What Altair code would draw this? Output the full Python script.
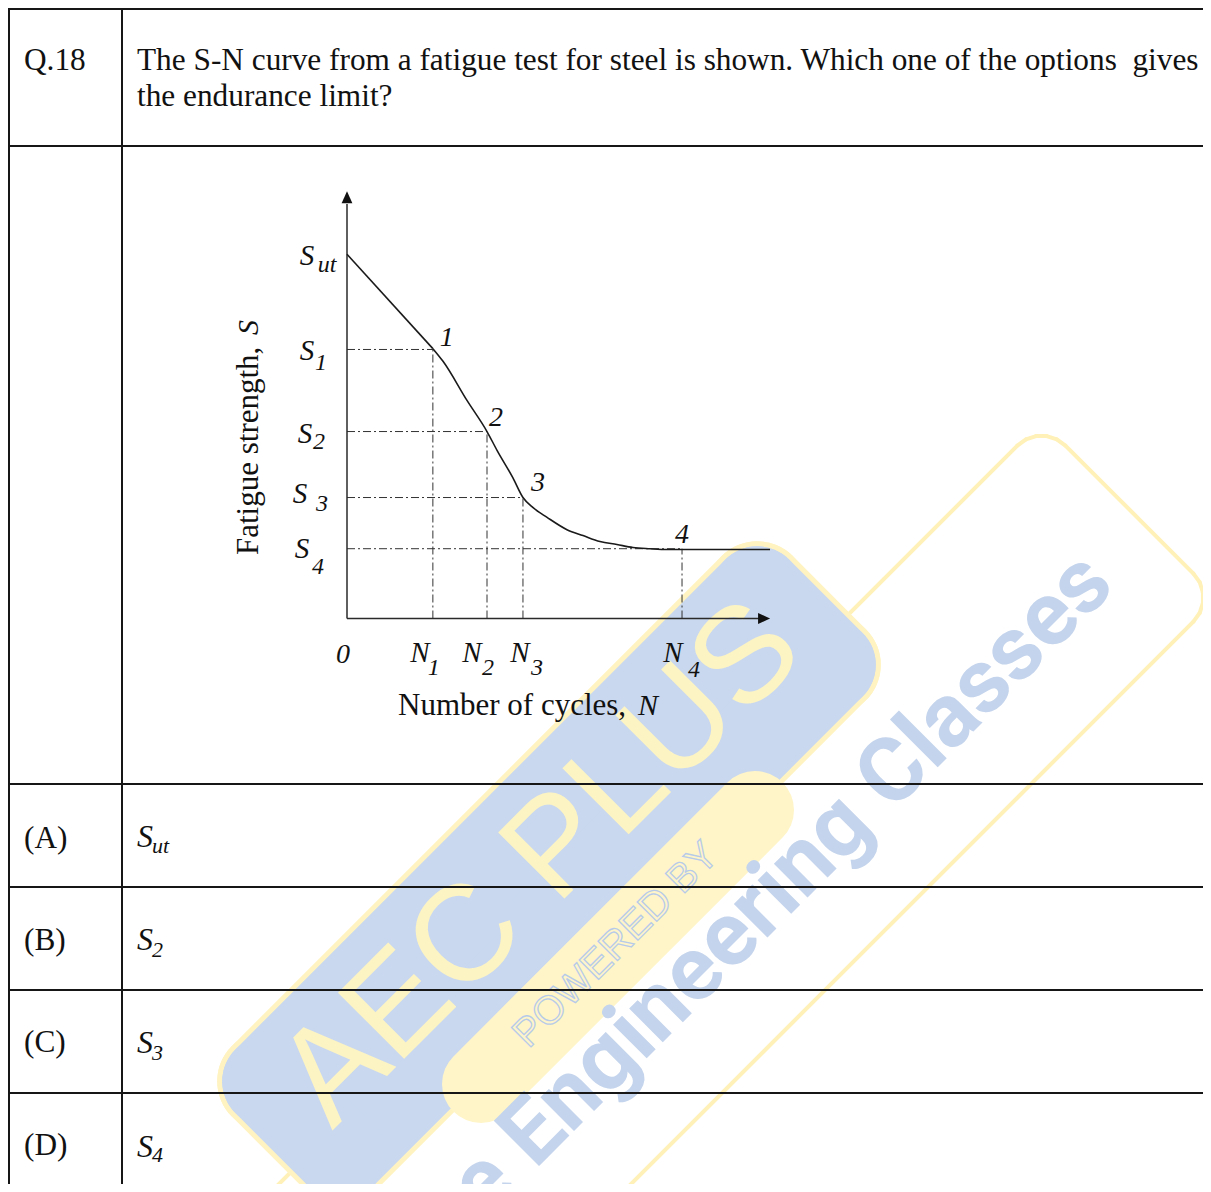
import altair as alt
import pandas as pd
import numpy as np

# ---------------- data ----------------
# S-N curve, in relative units: N from 0 to 100 along the axis, S from 0 to 100
curve_n = [0.0, 20.3, 22.7, 28.4, 33.1, 35.5, 39.2, 41.6, 44.0, 47.3, 52.0, 55.8, 59.8, 63.8, 67.6, 71.6, 75.7, 79.2, 100.0]
curve_s = [86.1, 63.8, 60.8, 51.5, 44.2, 39.7, 33.3, 28.6, 26.2, 23.9, 21.0, 19.6, 18.2, 17.5, 16.8, 16.5, 16.3, 16.3, 16.3]

point_names = ["1", "2", "3", "4"]
point_n = [20.3, 33.1, 41.6, 79.2]
point_s = [63.6, 44.2, 28.6, 16.5]
s_ut = 86.1

n_subs = ["1", "2", "3", "4"]
s_subs = ["ut", "1", "2", "3", "4"]

question_no = "Q.18"
question_lines = [
    "The S-N curve from a fatigue test for steel is shown. Which one of the options\u00a0 gives",
    "the endurance limit?",
]
option_keys = ["(A)", "(B)", "(C)", "(D)"]
option_subs = ["ut", "2", "3", "4"]

x_title = "Number of cycles,"
y_title = "Fatigue strength,"

# ---------------- layout helpers ----------------
OX, OY = 8, 8
W, H = 1195, 1176
SERIF = "Liberation Serif"
INK = "#111111"

dummy = pd.DataFrame({"k": [0]})

xs = alt.Scale(domain=[0, 100], range=[347 - OX, 770 - OX], nice=False, zero=False)
ys = alt.Scale(domain=[0, 100], range=[618.5 - OY, 195.5 - OY], nice=False, zero=False)


def seg(p, q, color, width, cap="round", dash=None):
    kw = dict(color=color, strokeWidth=width, strokeCap=cap)
    if dash is not None:
        kw["strokeDash"] = dash
    return alt.Chart(dummy).mark_rule(**kw).encode(
        x=alt.value(float(p[0]) - OX), y=alt.value(float(p[1]) - OY),
        x2=alt.value(float(q[0]) - OX), y2=alt.value(float(q[1]) - OY))


def label(txt, X, Y, size, italic=False, align="left", font=SERIF, color=INK,
          angle=0, weight="normal", baseline="alphabetic", **extra):
    kw = dict(text=txt, fontSize=size, font=font, color=color, align=align,
              baseline=baseline, fontWeight=weight,
              fontStyle="italic" if italic else "normal")
    if angle:
        kw["angle"] = angle
    kw.update(extra)
    return alt.Chart(dummy).mark_text(**kw).encode(
        x=alt.value(X - OX), y=alt.value(Y - OY))


U = np.array([1.0, -1.0]) / np.sqrt(2)   # along the watermark (up-right)
NRM = np.array([1.0, 1.0]) / np.sqrt(2)  # across the watermark (down-right)


def rounded_fill(c, L, Wd, r, color):
    c = np.array(c, float)
    hl, hw = L / 2 - r, Wd / 2 - r
    a, b = c - hl * U, c + hl * U
    out = [seg(a, b, color, 2 * hw, "butt")]
    cs = [a - hw * NRM, b - hw * NRM, b + hw * NRM, a + hw * NRM]
    for i in range(4):
        out.append(seg(cs[i], cs[(i + 1) % 4], color, 2 * r, "round"))
    return out


def rounded_outline(c, L, Wd, r, color, width):
    c = np.array(c, float)
    hl, hw = L / 2 - r, Wd / 2 - r
    a, b = c - hl * U, c + hl * U
    cs = [a - hw * NRM, b - hw * NRM, b + hw * NRM, a + hw * NRM]
    normals = [-NRM, U, NRM, -U]
    out = []
    for i in range(4):
        nv = normals[i]
        out.append(seg(cs[i] + r * nv, cs[(i + 1) % 4] + r * nv, color, width))
        v1, v2 = normals[i], normals[(i + 1) % 4]
        ts = np.linspace(0, np.pi / 2, 6)
        pts = [cs[(i + 1) % 4] + r * (np.cos(t) * v1 + np.sin(t) * v2) for t in ts]
        for k in range(len(pts) - 1):
            out.append(seg(pts[k], pts[k + 1], color, width))
    return out


layers = []

# ---------------- watermark ----------------
BLUE = "#c9d8ee"
PALE = "#fff5c8"
layers += rounded_outline((699.5, 939.5), 1216, 249, 34, "#fff1b8", 4)
layers += rounded_fill((549, 873), 793, 204, 50, "#fff3c2")
layers += rounded_fill((549, 873), 783, 194, 45, BLUE)
layers.append(label("AEC PLUS", 570, 893, 136, font="Liberation Sans", color="#fdf4c4",
                    align="center", angle=315))
layers.append(seg((481, 1084), (755, 810), PALE, 78, "round"))
layers.append(label("POWERED BY", 616, 945, 40, font="Liberation Sans", color=PALE,
                    align="center", baseline="middle", angle=315,
                    stroke="#b7cbe8", strokeWidth=1.3))
layers.append(label("Online Engineering Classes", 1117, 588, 90, font="Roboto",
                    weight="bold", color="#c4d4ec", align="right", angle=315))

# ---------------- table ----------------
TL = "#161616"
layers.append(seg((8, 8.5), (1215, 8.5), TL, 3, "butt"))
layers.append(seg((8.5, 8), (8.5, 1200), TL, 3, "butt"))
layers.append(seg((122, 8), (122, 1200), TL, 2, "butt"))
for yy in [146, 784, 887, 990, 1093]:
    layers.append(seg((8, yy), (1215, yy), TL, 2, "butt"))

QF = 31.3
layers.append(label(question_no, 24, 70, QF))
layers.append(label(question_lines[0], 137, 70, QF))
layers.append(label(question_lines[1], 137, 106, QF))

opt_base = [848, 950, 1052, 1155]
s_base = [847, 950, 1053, 1157]
sub_base = [853, 957, 1060, 1162]
for k in range(4):
    layers.append(label(option_keys[k], 24, opt_base[k], QF))
    layers.append(label("S", 137, s_base[k], 32, italic=True))
    layers.append(label(option_subs[k], 152, sub_base[k], 22, italic=True))

# ---------------- S-N chart ----------------
curve_df = pd.DataFrame({"n": curve_n, "s": curve_s, "o": list(range(len(curve_n)))})
lin_df = curve_df.iloc[:2]
smooth_df = curve_df.iloc[1:]
pts_df = pd.DataFrame({"n": point_n, "s": point_s, "name": point_names, "zero": [0.0] * 4})

X = lambda f: alt.X(f, scale=xs, axis=None)
Y = lambda f: alt.Y(f, scale=ys, axis=None)

guide_style = dict(color="#333333", strokeWidth=1, strokeDash=[8, 3, 2, 3])
layers.append(alt.Chart(pts_df).mark_rule(**guide_style).encode(
    x=X("zero:Q"), x2="n:Q", y=Y("s:Q")))
layers.append(alt.Chart(pts_df).mark_rule(**guide_style).encode(
    x=X("n:Q"), y=Y("zero:Q"), y2="s:Q"))

axes_df = pd.DataFrame({"n0": [0.0, 0.0], "s0": [0.0, 0.0], "n1": [0.0, 97.6], "s1": [98.0, 0.0]})
layers.append(alt.Chart(axes_df).mark_rule(color="#2a2a2a", strokeWidth=1.5).encode(
    x=X("n0:Q"), y=Y("s0:Q"), x2="n1:Q", y2="s1:Q"))

layers.append(alt.Chart(pd.DataFrame({"n": [0.0], "s": [99.6]})).mark_point(
    shape="M0,-1L-0.9,1L0.9,1Z", filled=True, size=144, color=INK, opacity=1).encode(
    x=X("n:Q"), y=Y("s:Q")))
layers.append(alt.Chart(pd.DataFrame({"n": [98.6], "s": [0.0]})).mark_point(
    shape="M1,0L-1,-0.9L-1,0.9Z", filled=True, size=144, color=INK, opacity=1).encode(
    x=X("n:Q"), y=Y("s:Q")))

layers.append(alt.Chart(lin_df).mark_line(color="#1a1a1a", strokeWidth=1.6).encode(
    x=X("n:Q"), y=Y("s:Q"), order="o:Q"))
layers.append(alt.Chart(smooth_df).mark_line(color="#1a1a1a", strokeWidth=1.6,
                                             interpolate="monotone").encode(
    x=X("n:Q"), y=Y("s:Q"), order="o:Q"))


def sn_text(n, s, txt, dx, dy, size):
    return alt.Chart(pd.DataFrame({"n": [n], "s": [s], "t": [txt]})).mark_text(
        dx=dx, dy=dy, fontSize=size, font=SERIF, fontStyle="italic", color=INK,
        align="center", baseline="alphabetic").encode(x=X("n:Q"), y=Y("s:Q"), text="t:N")


for (nn, ss, nm), (dx, dy) in zip(zip(point_n, point_s, point_names),
                                  [(14, -3), (9, -6), (15, -7), (0, -6)]):
    layers.append(sn_text(nn, ss, nm, dx, dy, 28))

layers.append(sn_text(0.0, 0.0, "0", -4, 44.5, 28))
for nn, sub, (dxa, dxb, dyb) in zip(point_n, n_subs,
                                    [(-13, 1, 56.5), (-15, 1, 56.5), (-3, 14, 56.5), (-9, 12, 58.5)]):
    layers.append(sn_text(nn, 0.0, "N", dxa, 43.5, 29))
    layers.append(sn_text(nn, 0.0, sub, dxb, dyb, 24))

s_levels = [s_ut] + point_s
for ss, sub, (dxa, dya, dxb, dyb) in zip(s_levels, s_subs,
                                         [(-40, 11, -20, 18), (-40, 11, -26, 21), (-42, 11, -28, 17),
                                          (-47, 5, -25, 13), (-45, 9, -29, 25)]):
    layers.append(sn_text(0.0, ss, "S", dxa, dya, 29))
    layers.append(sn_text(0.0, ss, sub, dxb, dyb, 24))

layers.append(label(x_title, 398, 715, 31))
layers.append(label("N", 658, 715, 30, italic=True, align="right"))
layers.append(label(y_title, 258, 555, 31, angle=270))
layers.append(label("S", 258, 320, 30, italic=True, angle=270, align="right"))

chart = alt.layer(*layers).properties(
    width=W, height=H, padding=0, autosize=alt.AutoSizeParams(type="none"),
    background="white",
).configure_view(stroke=None)

chart.save("out.html", embed_options={"renderer": "svg", "actions": False})
